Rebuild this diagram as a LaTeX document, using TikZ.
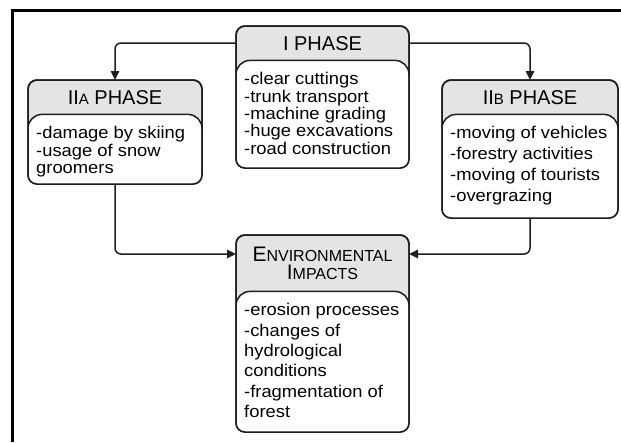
\documentclass[tikz,border=0pt]{standalone}
\usepackage{fontspec}
\setmainfont{Liberation Sans}[FakeStretch=1.08]
\newfontfamily\headfont{Liberation Sans}
\usetikzlibrary{positioning,arrows.meta}

\definecolor{headgray}{HTML}{E4E4E4}
\definecolor{linegray}{HTML}{1E1E1E}
\newcommand\lowcap[2][15]{{\fontsize{#1}{#1}\selectfont #2}}

\tikzset{
  phase/.style={draw=linegray, fill=headgray, line width=1.5pt, rounded corners=9pt, outer sep=0pt, inner sep=0pt},
  head/.style={anchor=north, minimum height=34pt, inner sep=0pt, align=center, font=\headfont\fontsize{20}{18.5}\selectfont},
  inner/.style={draw=linegray, fill=white, line width=1.5pt, rounded corners=14pt},
  items/.style={inner sep=0pt, align=left, font=\fontsize{17}{#1}\selectfont},
  items/.default=17.3,
  flow/.style={draw=linegray, line width=1.5pt, rounded corners=6pt, -{Triangle[length=9pt,width=8.5pt]}}
}

\begin{document}
\begin{tikzpicture}[x=1pt, y=-1pt]
  \useasboundingbox (0,0) rectangle (621,442);
  % frame
  \draw[line width=3pt] (12.5,442) -- (12.5,10.8) -- (621,10.8);

  % boxes
  \node[phase, minimum width=173pt, minimum height=142pt] (p1) at (322.5,97) {};
  \node[phase, minimum width=174pt, minimum height=104pt] (p2a) at (115,132) {};
  \node[phase, minimum width=176pt, minimum height=138pt] (p2b) at (530,149) {};
  \node[phase, minimum width=173pt, minimum height=197pt] (env) at (322.5,333.5) {};

  \node[head] (p1-h) at (p1.north) {I PHASE};
  \node[head] (p2a-h) at (p2a.north) {II\lowcap{A} PHASE};
  \node[head] (p2b-h) at (p2b.north) {II\lowcap{B} PHASE};
  \node[head, minimum height=56pt, font=\headfont\fontsize{21}{18.5}\selectfont] (env-h) at (env.north)
    {E\lowcap[16]{NVIRONMENTAL}\\I\lowcap[16]{MPACTS}};

  \foreach \n in {p1,p2a,p2b,env} {
    \coordinate (\n-t) at (\n.west |- \n-h.south);
    \begin{scope}
      \clip[rounded corners=9pt] (\n.north west) rectangle (\n.south east);
      \draw[inner] (\n-t) rectangle ([yshift=-20pt]\n.south east);
    \end{scope}
    \draw[draw=linegray, line width=1.5pt, rounded corners=9pt] (\n.north west) rectangle (\n.south east);
  }

  \node[items, below right=12pt and 8pt of p1-t] (p1-b)
    {-clear cuttings\\-trunk transport\\-machine grading\\-huge excavations\\-road construction};
  \node[items, below right=12pt and 8pt of p2a-t] (p2a-b)
    {-damage by skiing\\-usage of snow\\groomers};
  \node[items=21, below right=12pt and 8pt of p2b-t] (p2b-b)
    {-moving of vehicles\\-forestry activities\\-moving of tourists\\-overgrazing};
  \node[items=20.3, below right=12pt and 8pt of env-t] (env-b)
    {-erosion processes\\-changes of\\hydrological\\conditions\\-fragmentation of\\forest};

  % connectors
  \draw[flow] ([yshift=-17pt]p1.north west) -| (p2a.north);
  \draw[flow] ([yshift=-17pt]p1.north east) -| (p2b.north);
  \draw[flow] (p2a.south) |- ([yshift=-19pt]env.north west);
  \draw[flow] (p2b.south) |- ([yshift=-19pt]env.north east);
\end{tikzpicture}
\end{document}
